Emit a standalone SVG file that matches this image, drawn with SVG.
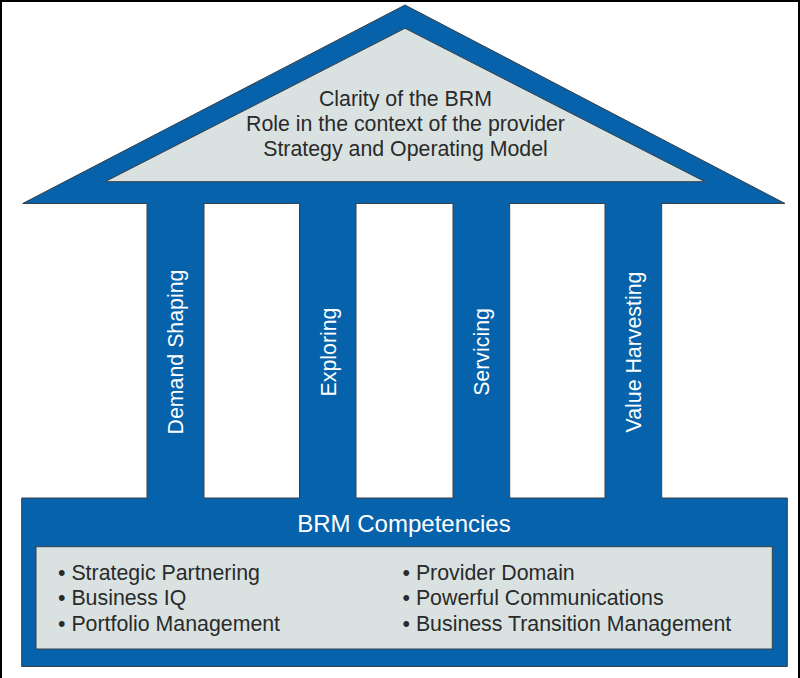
<svg xmlns="http://www.w3.org/2000/svg" width="800" height="678" viewBox="0 0 800 678">
  <style>
    .blue { fill: #0562AB; }
    .light { fill: #D9E2E1; stroke: #3A3F44; stroke-width: 1; }
    .outline { fill: none; stroke: #3A3F44; stroke-width: 1; stroke-linejoin: miter; }
    text { font-family: "Liberation Sans", Arial, Helvetica, sans-serif; }
    .dark { fill: #2A2A2A; font-size: 21.33px; }
    .white { fill: #FFFFFF; font-size: 21.33px; }
    .title { fill: #FFFFFF; font-size: 24px; }
  </style>
  <rect x="0" y="0" width="800" height="678" fill="#FFFFFF"/>
  <path d="M1,678 V1 H799 V678" fill="none" stroke="#000000" stroke-width="2"/>

  <g id="roof">
    <polygon class="blue" points="22.7,203.5 405,5 785,203.5"/>
    <polygon class="light" points="105,181.7 405,28.3 705,181.7"/>
    <text class="dark" x="405.5" y="106" text-anchor="middle">Clarity of the BRM</text>
    <text class="dark" x="405.5" y="131" text-anchor="middle">Role in the context of the provider</text>
    <text class="dark" x="405.5" y="156" text-anchor="middle">Strategy and Operating Model</text>
  </g>

  <g id="pillar-demand-shaping">
    <rect class="blue" x="147" y="203" width="57" height="296"/>
    <text class="white" transform="translate(183.2,352) rotate(-90)" text-anchor="middle">Demand Shaping</text>
  </g>
  <g id="pillar-exploring">
    <rect class="blue" x="299.5" y="203" width="56.5" height="296"/>
    <text class="white" transform="translate(335.5,352) rotate(-90)" text-anchor="middle">Exploring</text>
  </g>
  <g id="pillar-servicing">
    <rect class="blue" x="453" y="203" width="56.7" height="296"/>
    <text class="white" transform="translate(489,352) rotate(-90)" text-anchor="middle">Servicing</text>
  </g>
  <g id="pillar-value-harvesting">
    <rect class="blue" x="605" y="203" width="56.7" height="296"/>
    <text class="white" transform="translate(641,352) rotate(-90)" text-anchor="middle">Value Harvesting</text>
  </g>

  <g id="base">
    <rect class="blue" x="21.7" y="498" width="765.6" height="168.5"/>
    <text class="title" x="404" y="531.7" text-anchor="middle">BRM Competencies</text>
    <rect class="light" x="36" y="546.7" width="736.3" height="102.3"/>
    <text class="dark" x="58" y="579.5">• Strategic Partnering</text>
    <text class="dark" x="58" y="605">• Business IQ</text>
    <text class="dark" x="58" y="630.5">• Portfolio Management</text>
    <text class="dark" x="402.5" y="579.5">• Provider Domain</text>
    <text class="dark" x="402.5" y="605">• Powerful Communications</text>
    <text class="dark" x="402.5" y="630.5">• Business Transition Management</text>
  </g>

  <g id="connectors">
    <path class="outline" d="M22.7,203.5 L405,5 L785,203.5 L661.7,203.5 L661.7,498 L787.3,498 L787.3,666.5 L21.7,666.5 L21.7,498 L147,498 L147,203.5 Z M204,203.5 H299.5 V498 H204 Z M356,203.5 H453 V498 H356 Z M509.7,203.5 H605 V498 H509.7 Z"/>
  </g>
</svg>
